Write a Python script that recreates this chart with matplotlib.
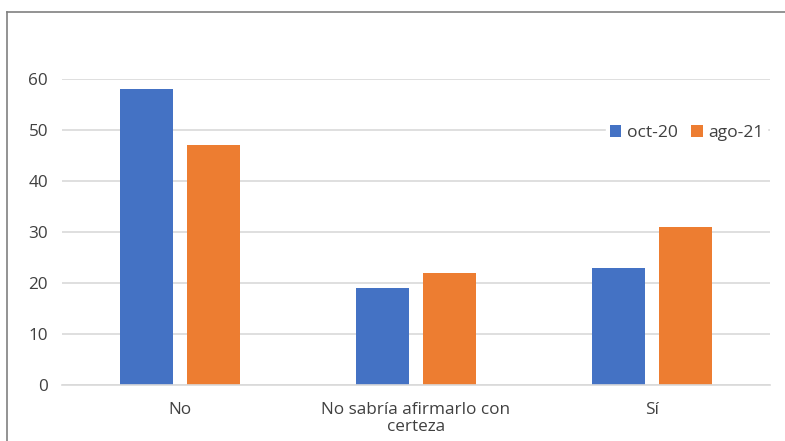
import numpy as np
import matplotlib.pyplot as plt
from matplotlib.lines import Line2D

categories = ["No", "No sabría afirmarlo con\ncerteza", "Sí"]
oct20 = [58, 19, 23]
ago21 = [47, 22, 31]
series_names = ["oct-20", "ago-21"]

blue = "#4472C4"
orange = "#ED7D31"

plt.rcParams['font.family'] = ['Open Sans', 'DejaVu Sans']

W, H = 785, 441
fig = plt.figure(figsize=(W / 100, H / 100), dpi=100)
ax = fig.add_axes([62 / W, 1 - 385 / H, (770 - 62) / W, (385 - 79) / H * 1.0])

x = np.arange(len(categories))
bw = 0.225
off = 0.142
ax.bar(x - off, oct20, bw, color=blue, label=series_names[0], zorder=2)
ax.bar(x + off, ago21, bw, color=orange, label=series_names[1], zorder=2)

ax.set_xlim(-0.5, 2.5)
ax.set_ylim(0, 60)
ax.set_yticks(range(0, 61, 10))
ax.yaxis.grid(True, color="#d9d9d9", linewidth=1.2, zorder=0)
ax.set_axisbelow(True)
for s in ["top", "right", "left"]:
    ax.spines[s].set_visible(False)
ax.spines["bottom"].set_color("#d9d9d9")
ax.spines["bottom"].set_linewidth(1.2)
ax.tick_params(axis="both", length=0, labelsize=12.3, colors="#404040")
ax.tick_params(axis="y", pad=10)
ax.tick_params(axis="x", pad=12)
ax.set_xticks(x)
ax.set_xticklabels(categories, linespacing=1.15)

leg = ax.legend(loc="upper right", bbox_to_anchor=(1.008, 0.89), ncol=2, frameon=True,
                fontsize=12.6, handlelength=0.65, handleheight=0.65, handletextpad=0.3,
                columnspacing=0.8, borderpad=0.2, labelcolor="#404040")
leg.get_frame().set_facecolor("white")
leg.get_frame().set_edgecolor("white")
leg.get_frame().set_alpha(1)

# outer border (top and left)
fig.add_artist(Line2D([7 / W, 7 / W], [0, 1 - 12 / H], color="#808080", linewidth=1.2))
fig.add_artist(Line2D([7 / W, 1], [1 - 12 / H, 1 - 12 / H], color="#808080", linewidth=1.2))

fig.savefig("out.png", dpi=100)
